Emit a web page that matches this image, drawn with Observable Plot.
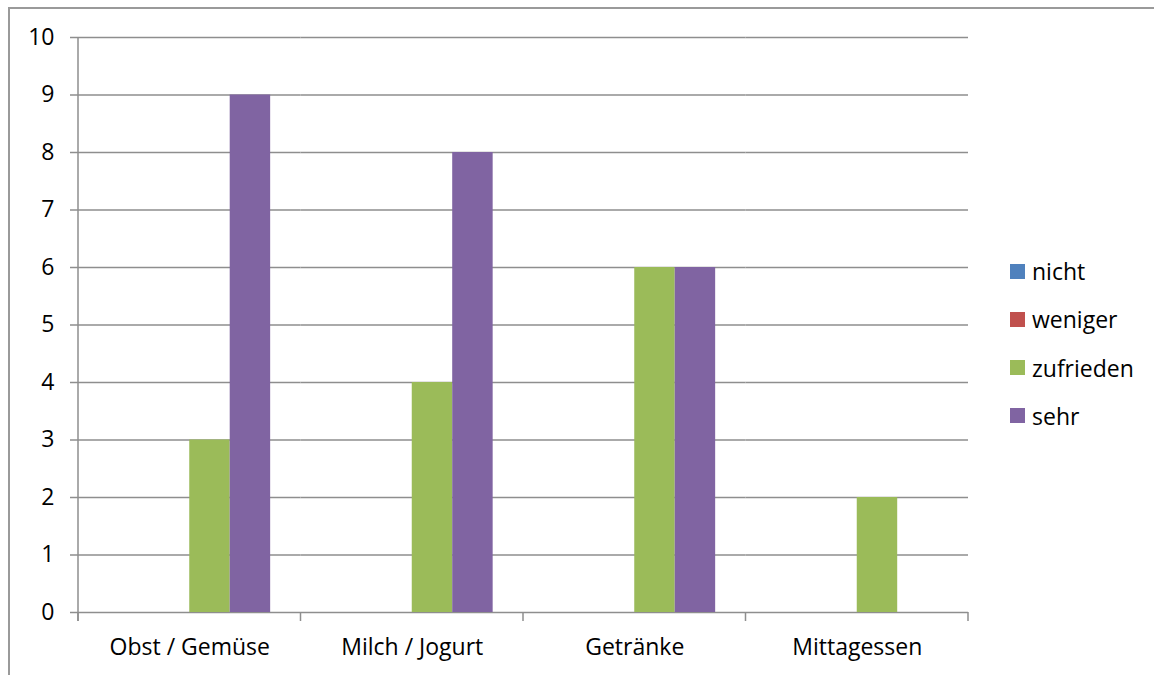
<!DOCTYPE html>
<html><head><meta charset="utf-8">
<script src="https://cdn.jsdelivr.net/npm/d3@7"></script>
<script src="https://cdn.jsdelivr.net/npm/@observablehq/plot@0.6"></script>
<style>
html,body{margin:0;padding:0;background:#fff;overflow:hidden;}
#wrap{position:relative;width:1154px;height:675px;overflow:hidden;}
#border{position:absolute;left:8px;top:7px;width:1300px;height:800px;border:2px solid #9a9a9a;box-sizing:border-box;}
#chart{position:absolute;left:0;top:0;}
#legend{position:absolute;left:1010px;top:256px;font-family:"Open Sans",sans-serif;font-size:23px;color:#000;display:flex;flex-direction:column;gap:18.3px;}
.item{display:flex;align-items:center;white-space:nowrap;height:30px;}
.sw{width:15px;height:15px;margin-right:7px;flex:none;}
</style>
</head><body>
<div id="wrap"><div id="border"></div><div id="chart"></div><div id="legend"></div></div>
<script>
const categories = ["Obst / Gemüse", "Milch / Jogurt", "Getränke", "Mittagessen"];
const series = ["nicht", "weniger", "zufrieden", "sehr"];
const nicht = [0, 0, 0, 0];
const weniger = [0, 0, 0, 0];
const zufrieden = [3, 4, 6, 2];
const sehr = [9, 8, 6, 0];
const colors = ["#4F81BD", "#C0504D", "#9BBB59", "#8064A2"];
const yTicks = [0, 1, 2, 3, 4, 5, 6, 7, 8, 9, 10];

const seriesValues = [nicht, weniger, zufrieden, sehr];
const data = categories.flatMap((c, i) => series.map((s, j) => ({category: c, series: s, value: seriesValues[j][i]})));

const gridColor = "#8e8e8e";
const plot = Plot.plot({
  width: 1154, height: 675,
  marginLeft: 78, marginRight: 186, marginTop: 37, marginBottom: 63,
  style: {fontFamily: "'Open Sans', sans-serif", fontSize: "23px", color: "#000", background: "transparent", overflow: "visible"},
  fx: {domain: categories, padding: 0, round: false, axis: null, label: null},
  x: {domain: series, paddingInner: 0, paddingOuter: 0.75, round: false, axis: null},
  y: {domain: [0, 10], axis: null},
  color: {domain: series, range: colors},
  marks: [
    Plot.ruleY(yTicks, {stroke: gridColor, strokeWidth: 1.5}),
    Plot.barY(data, {fx: "category", x: "series", y: "value", fill: "series"}),
    Plot.axisY({ticks: yTicks, tickSize: 8, tickPadding: 16, stroke: gridColor, strokeWidth: 1.5, fill: "#000", label: null, tickFormat: d => String(d)}),
    Plot.axisFx({anchor: "bottom", tickSize: 0, tickPadding: 26, fill: "#000", label: null})
  ]
});
document.getElementById("chart").appendChild(plot);

// axis line and category boundary ticks from the plot's own scales
const fx = plot.scale("fx");
const y = plot.scale("y");
const svg = d3.select(plot);
const y0 = y.apply(0), yTop = y.apply(10);
const g = svg.append("g").attr("stroke", gridColor).attr("stroke-width", 1.5);
const xLeft = fx.apply(categories[0]);
g.append("line").attr("x1", xLeft).attr("x2", xLeft).attr("y1", yTop).attr("y2", y0 + 9);
const bounds = categories.map(c => fx.apply(c)).concat([fx.apply(categories[categories.length - 1]) + fx.bandwidth]);
bounds.forEach(b => g.append("line").attr("x1", b).attr("x2", b).attr("y1", y0).attr("y2", y0 + 9));

// legend
const color = plot.scale("color");
const leg = d3.select("#legend");
series.forEach(s => {
  const it = leg.append("div").attr("class", "item");
  it.append("div").attr("class", "sw").style("background", color.apply(s));
  it.append("span").text(s);
});
</script>
</body></html>
